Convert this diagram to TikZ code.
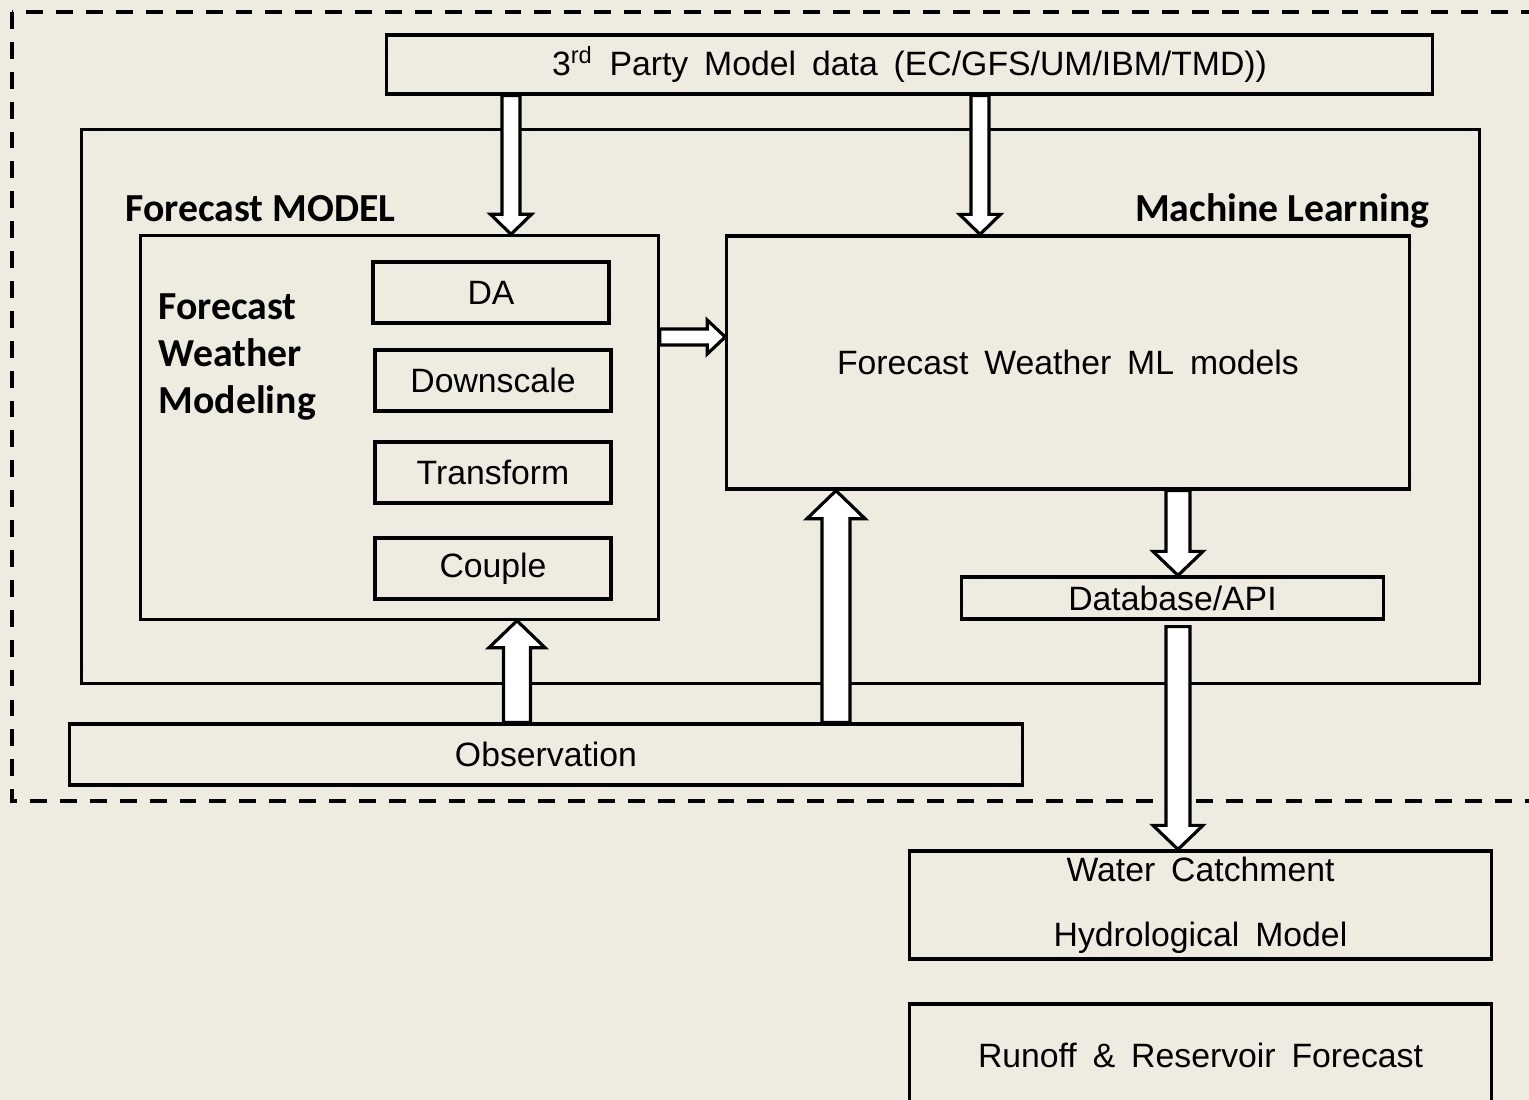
\documentclass[tikz,border=0pt]{standalone}
\usepackage{fontspec}
\setmainfont{Liberation Sans}[WordSpace=1.7]
\newfontfamily\labelfont{Carlito}
\usetikzlibrary{calc}
\definecolor{paper}{HTML}{EEEBE0}

\tikzset{
  box/.style={draw=black, line width=0.9pt, inner sep=0pt},
  lbl/.style={inner sep=0pt, font=\labelfont\bfseries\fontsize{11.3}{13.3}\selectfont},
  blockarrow/.style n args={3}{draw=black, fill=white, line width=0.9pt,
    to path={($(\tikztotarget)!#3!(\tikztostart)$) coordinate (ba-h)
      ($(\tikztostart)!#1!90:(\tikztotarget)$) -- ($(ba-h)!#1!90:(\tikztotarget)$)
      -- ($(ba-h)!#2!90:(\tikztotarget)$) -- (\tikztotarget)
      -- ($(ba-h)!#2!-90:(\tikztotarget)$) -- ($(ba-h)!#1!-90:(\tikztotarget)$)
      -- ($(\tikztostart)!#1!-90:(\tikztotarget)$) -- cycle}}
}

\begin{document}
\begin{tikzpicture}[x=0.01cm, y=-0.01cm, line join=miter, font=\fontsize{9.6}{11.5}\selectfont]
  \clip (0,0) rectangle (1529,1100);
  \fill [paper] (0,0) rectangle (1529,1100);
  \draw [line width=0.9pt, dash pattern=on 4.8pt off 3.7pt] (12,12) rectangle (1600,801);

  \node [box, minimum width=10.45cm, minimum height=0.59cm, name=party] at (909.5,64.5)
  {3\textsuperscript{rd} Party Model data (EC/GFS/UM/IBM/TMD))};
  \node [box, minimum width=13.97cm, minimum height=5.53cm, name=mainbox] at (780.5,406.5) {};
  \node [lbl, anchor=base west, name=fmlabel] at (125,221) {Forecast MODEL};
  \node [lbl, anchor=base east, name=mllabel] at (1430,221) {Machine Learning};

  % forecast model part
  \node [box, minimum width=5.17cm, minimum height=3.83cm, name=fmbox] at (399.5,427.5) {};
  \node [lbl, anchor=north west, align=left, name=fwm] at (158,293)
  {Forecast\\Weather\\Modeling};
  \node [box, minimum width=2.36cm, minimum height=0.61cm, name=da] at (491,292.5) {DA};
  \node [box, minimum width=2.36cm, minimum height=0.61cm, name=down] at (493,380.5) {Downscale};
  \node [box, minimum width=2.36cm, minimum height=0.61cm, name=trans] at (493,472.5) {Transform};
  \node [box, minimum width=2.36cm, minimum height=0.61cm, name=couple] at (493,568.5) {Couple};

  % machine learning part
  \node [box, minimum width=6.82cm, minimum height=2.53cm, name=mlbox] at (1068,362.5)
  {Forecast Weather ML models};
  \node [box, minimum width=4.21cm, minimum height=0.42cm, name=db] at (1172.5,598) {Database/API};

  \node [box, minimum width=9.52cm, minimum height=0.61cm, name=obs] at (546,754.5) {Observation};
  \node [box, minimum width=5.81cm, minimum height=1.08cm, align=center, name=water] at (1200.5,905)
  {Water Catchment\\[0.245cm]Hydrological Model};
  \node [box, minimum width=5.81cm, minimum height=1.02cm, name=runoff] at (1200.5,1055)
  {Runoff \& Reservoir Forecast};

  \coordinate (colfm) at (511,0);
  \coordinate (colml) at (980,0);
  \coordinate (colobsfm) at (517,0);
  \coordinate (colobsml) at (836,0);
  \coordinate (coldb) at (1178,0);
  \coordinate (rowfeed) at (0,337);

  \draw [blockarrow={0.09cm}{0.205cm}{0.2cm}] (party.south -| colfm) to (fmbox.north -| colfm);
  \draw [blockarrow={0.09cm}{0.205cm}{0.2cm}] (party.south -| colml) to (mlbox.north -| colml);
  \draw [blockarrow={0.08cm}{0.17cm}{0.18cm}] (fmbox.east |- rowfeed) to (mlbox.west |- rowfeed);
  \draw [blockarrow={0.135cm}{0.28cm}{0.27cm}] (obs.north -| colobsfm) to (fmbox.south -| colobsfm);
  \draw [blockarrow={0.14cm}{0.29cm}{0.28cm}] (obs.north -| colobsml) to (mlbox.south -| colobsml);
  \draw [blockarrow={0.12cm}{0.25cm}{0.24cm}] (mlbox.south -| coldb) to (db.north -| coldb);
  \draw [blockarrow={0.12cm}{0.25cm}{0.24cm}] ([yshift=-0.06cm]db.south -| coldb) to (water.north -| coldb);
\end{tikzpicture}
\end{document}
